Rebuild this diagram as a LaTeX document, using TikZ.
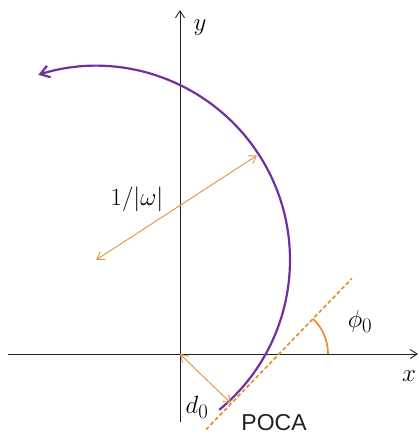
\documentclass[tikz,border=0pt]{standalone}
\usepackage{fontspec}
\newfontfamily\labelsans{Liberation Sans}
\usetikzlibrary{arrows.meta,calc}
\definecolor{trackpurple}{HTML}{7030A0}
\definecolor{dashorange}{HTML}{E8902E}
\definecolor{arrorange}{HTML}{DE9A52}
\definecolor{axisgray}{HTML}{202020}
\tikzset{
  axis/.style={draw=axisgray,line width=0.9pt,-{Straight Barb[length=7pt,width=9pt,line width=0.9pt]}},
  track/.style={draw=trackpurple,line width=2.2pt,-{Straight Barb[length=9pt,width=12pt,line width=2.2pt]}},
  tangentline/.style={draw=dashorange,line width=1.7pt,dash pattern=on 4pt off 2.5pt},
  anglearc/.style={draw=dashorange,line width=1.7pt},
  measure/.style={draw=arrorange,line width=1pt,{Straight Barb[length=7pt,width=9pt,line width=1pt]}-{Straight Barb[length=7pt,width=9pt,line width=1pt]}},
  mathlbl/.style={font=\fontsize{28}{32}\selectfont},
  mathlblb/.style={font=\fontsize{25}{29}\selectfont},
  textlbl/.style={font=\labelsans\fontsize{23}{27}\selectfont,text=axisgray}
}
\begin{document}
\begin{tikzpicture}[x=1pt,y=1pt]
\useasboundingbox (-180,-83) rectangle (239,354);
% axes
\coordinate (O) at (0,0);
\coordinate (xs) at (-172,0);
\coordinate (xe) at (238,0);
\coordinate (ys) at (0,-68);
\coordinate (ye) at (0,344);
\draw[axis] (xs) -- (xe);
\draw[axis] (ys) -- (ye);
% helix projection (circle)
\coordinate (C) at (-84,94);
\coordinate (TS) at ($(C)+(-50.6:194)$);
\coordinate (R) at ($(C)+(33:192)$);
\draw[track] (TS) arc[start angle=-50.6, end angle=107.3, radius=194];
% radius
\draw[measure] (C) -- (R);
% tangent line
\coordinate (X0) at (99,0);
\coordinate (L1) at ($(X0)+(226:105)$);
\coordinate (L2) at ($(X0)+(46:105)$);
\draw[tangentline] (L1) -- (L2);
% angle phi0
\coordinate (A0) at ($(X0)+(49,0)$);
\draw[anglearc] (A0) arc[start angle=0, end angle=46, radius=49];
% POCA and d0
\coordinate (P) at ($(L1)!(O)!(L2)$);
\draw[measure] (O) -- (P);
% labels
\node[mathlbl] (ylbl) at (20,326) {$y$};
\node[mathlbl] (xlbl) at (229,-22) {$x$};
\node[mathlbl] (philbl) at (180,33) {$\phi_0$};
\node[mathlblb] (wlbl) at (-43,155) {$1/|\omega|$};
\node[mathlbl] (dlbl) at (17,-53) {$d_0$};
\node[textlbl] (pocalbl) at (94,-69) {POCA};
\end{tikzpicture}
\end{document}
